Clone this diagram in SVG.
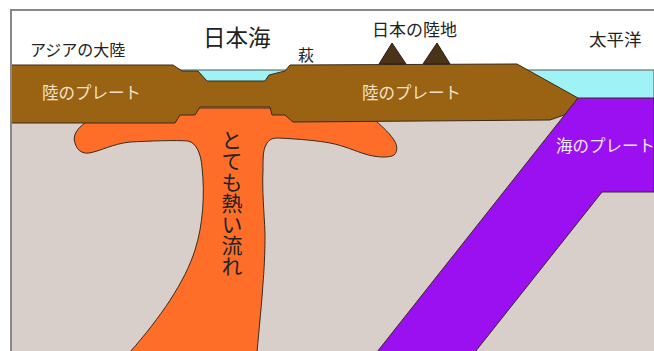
<svg xmlns="http://www.w3.org/2000/svg" width="654" height="351" viewBox="0 0 654 351">
  <style>
    .edge { stroke: #3a2a1a; stroke-width: 1; stroke-linejoin: round; }
    .lbl { font-family: "Noto Sans CJK JP", "Noto Sans", sans-serif; fill: #222; }
    .plate-lbl { font-family: "Noto Sans CJK JP", "Noto Sans", sans-serif; fill: #f3e3c8; font-size: 16.5px; }
  </style>
  <rect x="0" y="0" width="654" height="351" fill="#ffffff"/>

  <!-- mantle -->
  <rect id="mantle" x="11" y="95" width="643" height="256" fill="#d8cfca"/>

  <!-- seas -->
  <g id="sea-japan">
    <polygon points="178,70 290,70 290,88 178,88" fill="#9ff3f6" stroke="#555" stroke-width="1"/>
  </g>
  <g id="sea-pacific">
    <polygon points="517,70 654,70 654,100 578,100" fill="#9ff3f6" stroke="#555" stroke-width="1"/>
  </g>

  <!-- hot upwelling flow -->
  <g id="hot-flow">
    <path class="edge" fill="#fe6e28" d="M 85,108 L 85,123
      C 78,128 72,135 75,143
      C 77,150 82,154 89,153
      C 101,151 112,144 130,142
      C 150,141 175,140 188,141
      C 197,143 201,155 202,167
      C 205,195 203,225 195,250
      C 185,282 160,318 130,352
      L 257,352
      C 259,330 262,300 263,283
      C 265,260 265,240 265,233
      C 264,210 262,190 263,170
      C 263,158 263,150 266,145
      C 268,140 272,138 278,138
      C 300,139 320,141 330,143
      C 345,146 355,151 365,154
      C 375,157 385,158 392,156
      C 398,154 398,146 394,140
      C 388,131 380,125 374,119
      L 374,108 Z"/>
    <text class="lbl" x="232" y="130" font-size="21" style="writing-mode: vertical-rl;">とても熱い流れ</text>
  </g>

  <!-- continental plate -->
  <g id="continental-plate">
    <path class="edge" fill="#9a6213" d="M 11,65 L 173,65 L 182,71 L 198,71 L 207,81 L 265,81 L 269,75 L 285,71 L 290,65
      L 517,64 L 578,98 L 567,114 L 550,120 L 293,122 L 285,115 L 272,115 L 270,107 L 200,107 L 195,115 L 180,115 L 175,123 L 11,123 Z"/>
    <text class="plate-lbl" x="42" y="99">陸のプレート</text>
    <text class="plate-lbl" x="362" y="99">陸のプレート</text>
  </g>

  <!-- oceanic plate -->
  <g id="oceanic-plate">
    <polygon class="edge" fill="#9b10f0" points="578,98 654,98 654,192 602,192 475,352 377,352"/>
    <text class="plate-lbl" x="556" y="152" style="fill:#f2e8ff">海のプレート</text>
  </g>

  <!-- mountains of Japan -->
  <g id="mountains">
    <polygon points="379,64 392,43 406,64" fill="#4b3319" stroke="#2a1c0c" stroke-width="1"/>
    <polygon points="423,64 437,43 450,64" fill="#4b3319" stroke="#2a1c0c" stroke-width="1"/>
  </g>

  <!-- frame -->
  <g id="frame" stroke="#888" stroke-width="2" fill="none">
    <path d="M 11,351 L 11,10 L 654,10"/>
  </g>

  <!-- place labels -->
  <g id="labels">
    <text class="lbl" x="30" y="56" font-size="16">アジアの大陸</text>
    <text class="lbl" x="203" y="45.5" font-size="22.5">日本海</text>
    <text class="lbl" x="298" y="61" font-size="16">萩</text>
    <text class="lbl" x="372" y="36" font-size="17">日本の陸地</text>
    <text class="lbl" x="589" y="46" font-size="17.5">太平洋</text>
  </g>
</svg>
